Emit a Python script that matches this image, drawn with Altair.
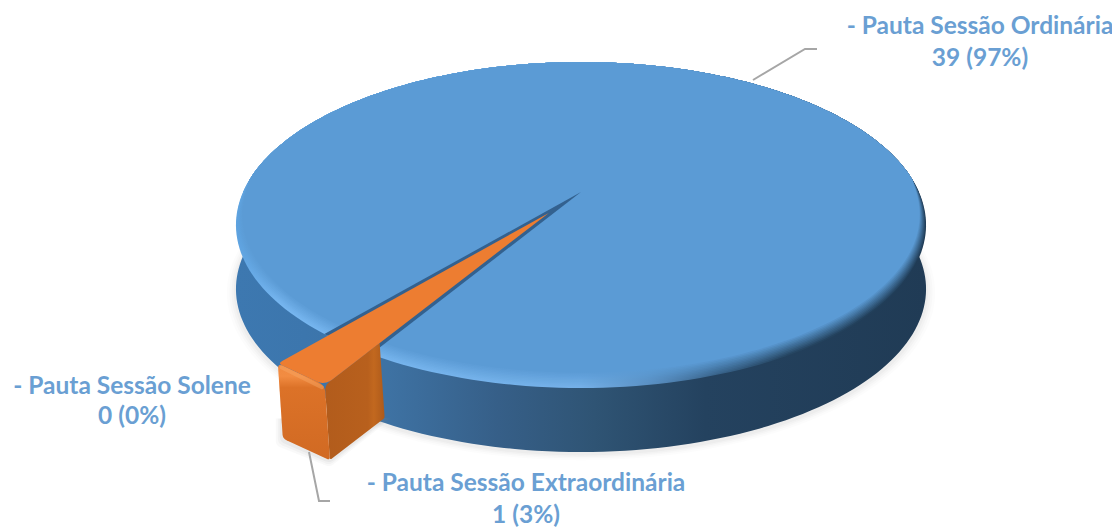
import math
import altair as alt

# ---- data
labels = ["- Pauta Sessão Ordinária", "- Pauta Sessão Extraordinária", "- Pauta Sessão Solene"]
values = [39, 1, 0]
percents = [97, 3, 0]
label_x = [980, 526, 132]
label_y1 = [27, 484, 387]
label_y2 = [59, 516, 417]

FACE = "#5b9bd5"
TEXT = "#6a9fd3"
LEADER = "#a6a6a6"

# ---- view of the disc (perspective ellipse in the page)
TIP_X, TIP_Y = 581, 192
KX, KY, K = 337.9, 156.3, 0.2025
DEPTH = 64
ORANGE_DEPTH = 75
ORANGE_SKEW = 5
EXPLODE = 0.16
MID_ANGLE = 125.4
total = sum(values)
sweep = 360 * values[1] / total
t1 = MID_ANGLE - sweep / 2
t2 = MID_ANGLE + sweep / 2


def project(X, Y, dy=0.0, dx=0.0):
    w = 1 - K * Y
    return [round(TIP_X + KX * X / w + dx, 2), round(TIP_Y + KY * Y / w + dy, 2)]


def rim(start, end, n, r=1.0, dy=0.0, dx=0.0, ex=0.0, ey=0.0):
    out = []
    for i in range(n + 1):
        a = math.radians(start + (end - start) * i / n)
        out.append(project(ex + r * math.cos(a), ey + r * math.sin(a), dy, dx))
    return out


def bevel_ring(level, n=240):
    """Top-face outline pulled in along the near half of the rim only."""
    out = []
    for i in range(n):
        a = 2 * math.pi * i / n
        s = max(0.0, math.sin(a) + 0.08) / 1.08
        amt = level * s ** 0.6
        r = 1 - 0.0042 * amt
        out.append(project(r * math.cos(a), r * math.sin(a), -0.5 * amt))
    return out


def rounded(corners, radii):
    """Outline through the corners, each one rounded with its own radius."""
    out = []
    m = len(corners)
    for i, p in enumerate(corners):
        a, b = corners[i - 1], corners[(i + 1) % m]
        rad = radii[i]
        if rad == 0:
            out.append(p)
            continue
        la = math.dist(p, a)
        lb = math.dist(p, b)
        s = [p[0] + (a[0] - p[0]) * rad / la, p[1] + (a[1] - p[1]) * rad / la]
        e = [p[0] + (b[0] - p[0]) * rad / lb, p[1] + (b[1] - p[1]) * rad / lb]
        for k in range(9):
            u = k / 8
            out.append([round((1 - u) ** 2 * s[j] + 2 * u * (1 - u) * p[j] + u ** 2 * e[j], 2) for j in (0, 1)])
    return out


def poly(points, **mark):
    ring = points + [points[0]]
    feature = {"type": "Feature", "properties": {},
               "geometry": {"type": "Polygon", "coordinates": [ring]}}
    mark.setdefault("strokeWidth", 0)
    return alt.Chart(alt.Data(values=[feature])).mark_geoshape(**mark)


def polyline(points, **mark):
    feature = {"type": "Feature", "properties": {},
               "geometry": {"type": "LineString", "coordinates": points}}
    return alt.Chart(alt.Data(values=[feature])).mark_geoshape(filled=False, **mark)


def grad(stops, vertical=False):
    return alt.Gradient(
        gradient="linear",
        stops=[alt.GradientStop(offset=o, color=c) for o, c in stops],
        x1=0, x2=0 if vertical else 1, y1=0, y2=1 if vertical else 0,
    )


def mix(c1, c2, f):
    a = [int(c1[i:i + 2], 16) for i in (1, 3, 5)]
    b = [int(c2[i:i + 2], 16) for i in (1, 3, 5)]
    return "#" + "".join(f"{round(x + (y - x) * f):02x}" for x, y in zip(a, b))


layers = []

# soft shadow of the disc
for g, op in [(1.025, 0.025), (1.018, 0.03), (1.012, 0.04), (1.006, 0.05)]:
    layers.append(poly(rim(0, 360, 180, r=g, dy=DEPTH + 2), fill="#808080", opacity=op))

# blue side wall
side = rim(0, 180, 120, dy=DEPTH) + rim(180, 360, 120)
layers.append(poly(side, fill=grad([
    (0.0, "#3d78b0"), (0.1, "#3c76ad"), (0.22, "#3e72a3"), (0.38, "#365f88"),
    (0.52, "#2f5474"), (0.68, "#24425f"), (1.0, "#203b55"),
])))

# bevel rings on the top face, fading into the face colour
bevel = [(0.0, "#5ea3e0"), (0.06, "#76b6f0"), (0.5, "#74b0e8"), (0.6, "#5a90c3"),
         (0.7, "#38638a"), (0.8, "#264662"), (1.0, "#1f3b55")]
N = 10
for i in range(N + 1):
    f = i / N
    layers.append(poly(bevel_ring(i), fill=grad([(o, mix(c, FACE, f)) for o, c in bevel])))

# open gap left by the pulled-out slice
gap = [project(0, 0)] + rim(t1, t2, 12)
layers.append(poly(gap, fill="#33618f"))

# pulled-out slice
ex = EXPLODE * math.cos(math.radians(MID_ANGLE))
ey = EXPLODE * math.sin(math.radians(MID_ANGLE))
arc_top = rim(t1, t2, 12, ex=ex, ey=ey)
arc_bottom = rim(t1, t2, 12, ex=ex, ey=ey, dy=ORANGE_DEPTH, dx=ORANGE_SKEW)
tip = project(ex, ey)
a1 = math.radians(t1)
R_CUT = 0.79
cut_top = project(ex + R_CUT * math.cos(a1), ey + R_CUT * math.sin(a1))
cut_bottom = project(ex + R_CUT * math.cos(a1), ey + R_CUT * math.sin(a1), ORANGE_DEPTH, ORANGE_SKEW)
A, C = arc_top[-1], arc_top[0]
Ab, Cb = arc_bottom[-1], arc_bottom[0]

# its shadow
for off, op in [(7, 0.05), (5, 0.06), (3, 0.08)]:
    layers.append(poly(rounded([[Ab[0] - off, Ab[1] - 20], [Ab[0] - off, Ab[1] + off],
                                [Cb[0], Cb[1] + off], [cut_bottom[0] + off, cut_bottom[1]]], [0, 5, 5, 0]),
                       fill="#808080", opacity=op))

layers.append(poly(rounded([C, cut_top, cut_bottom, Cb], [6, 0, 2, 3]),
                   fill=grad([(0, "#b25c1c"), (0.72, "#b8601d"), (0.82, "#c2681f"), (1, "#ad5a1b")])))
layers.append(poly(rounded([A, C, Cb, Ab], [5, 8, 3, 4]),
                   fill=grad([(0, "#f08a40"), (0.12, "#f28c42"), (0.24, "#dc7228"), (1, "#d16a23")], vertical=True)))
layers.append(poly(rounded([A, C, tip], [5, 9, 0]), fill="#ed7d31"))
# soft highlight along the front edge of the slice
layers.append(polyline([[A[0] + 4, A[1] + 4], [C[0] - 3, C[1] + 2]], stroke="#f8a866", strokeWidth=4,
                       opacity=0.45, strokeCap="round"))

# leader lines
layers.append(polyline([[753, 80], [805, 49], [817, 49]], stroke=LEADER, strokeWidth=2))
layers.append(polyline([[309, 452], [319, 501], [330, 501]], stroke=LEADER, strokeWidth=2))

# labels
rows = []
for name, v, p, x, y1, y2 in zip(labels, values, percents, label_x, label_y1, label_y2):
    rows.append({"t": name, "x": x, "y": y1})
    rows.append({"t": f"{v} ({p}%)", "x": x, "y": y2})
layers.append(
    alt.Chart(alt.Data(values=rows))
    .mark_text(font="Lato", fontSize=24.5, fontWeight="bold", color=TEXT, align="center", baseline="middle")
    .encode(longitude="x:Q", latitude="y:Q", text="t:N")
)

chart = (
    alt.layer(*layers)
    .project(type="identity", scale=1, translate=[-8, -8])
    .properties(width=1104, height=520, padding=0,
                autosize=alt.AutoSizeParams(type="none"), background="white")
    .configure_view(stroke=None)
)
chart.save("out.html", embed_options={"renderer": "svg", "actions": False})
